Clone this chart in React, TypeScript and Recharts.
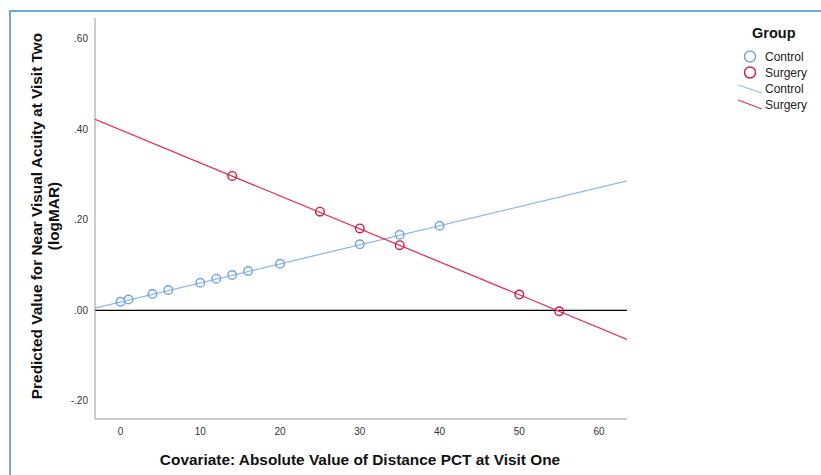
import React from 'react';
import { ScatterChart, Scatter, XAxis, YAxis, ReferenceLine } from 'recharts';

// covariate values (x) and predicted logMAR (y)
const controlX = [0, 1, 4, 6, 10, 12, 14, 16, 20, 30, 35, 40];
const controlY = [0.019, 0.024, 0.036, 0.045, 0.061, 0.07, 0.078, 0.087, 0.103, 0.146, 0.167, 0.187];
const surgeryX = [14, 25, 30, 35, 50, 55];
const surgeryY = [0.297, 0.218, 0.181, 0.144, 0.035, -0.002];

// fitted lines, read at the ends of the plot frame
const fitX = [-3.2, 63.5];
const controlFitY = [0.005, 0.286];
const surgeryFitY = [0.422, -0.064];

const xTicks = [0, 10, 20, 30, 40, 50, 60];
const yTicks = [-0.2, 0, 0.2, 0.4, 0.6];

const CONTROL = '#6fa3e6';
const CONTROL_LINE = '#8bb8ef';
const SURGERY = '#d6163f';
const SURGERY_LINE = '#e0345a';
const FONT = '"Liberation Sans", Arial, sans-serif';

const pts = (xs: number[], ys: number[]) => xs.map((x, i) => ({ x, y: ys[i] }));

const controlPts = pts(controlX, controlY);
const surgeryPts = pts(surgeryX, surgeryY);
const controlFit = pts(fitX, controlFitY);
const surgeryFit = pts(fitX, surgeryFitY);

const fmtY = (v: number) => v.toFixed(2).replace('0.', '.');

const ring = (color: string) => (props: any) => (
  <circle cx={props.cx} cy={props.cy} r={4.3} fill="none" stroke={color} strokeWidth={1.4} />
);
const noDot = () => <g />;

const App: React.FC = () => {
  return (
    <div style={{ position: 'absolute', left: 0, top: 0, width: 821, height: 475, background: '#fff', fontFamily: FONT }}>
      <div style={{ position: 'absolute', left: 9, top: 10, right: 0, bottom: 0, borderTop: '2px solid #6fa8dc', borderLeft: '2px solid #6fa8dc' }} />
      <div style={{ position: 'absolute', left: 0, top: 0 }}>
        <ScatterChart width={821} height={475} margin={{ top: 18, right: 194, bottom: 26, left: 35 }}>
          <XAxis
            type="number"
            dataKey="x"
            domain={[-3.2, 63.5]}
            ticks={xTicks}
            allowDataOverflow
            height={30}
            stroke="#9a9a9a"
            tickLine={false}
            tickSize={0}
            tickMargin={9}
            tick={{ fontSize: 10, fill: '#333', fontFamily: FONT }}
          />
          <YAxis
            type="number"
            dataKey="y"
            domain={[-0.24, 0.646]}
            ticks={yTicks}
            allowDataOverflow
            width={60}
            stroke="#9a9a9a"
            tickLine={false}
            tickSize={0}
            tickMargin={7}
            tickFormatter={fmtY}
            tick={{ fontSize: 10, fill: '#333', fontFamily: FONT }}
          />
          <ReferenceLine y={0} stroke="#000" strokeWidth={1.2} />
          <Scatter data={controlFit} line={{ stroke: CONTROL_LINE, strokeWidth: 1.3 }} shape={noDot} isAnimationActive={false} />
          <Scatter data={surgeryFit} line={{ stroke: SURGERY_LINE, strokeWidth: 1.3 }} shape={noDot} isAnimationActive={false} />
          <Scatter data={controlPts} shape={ring(CONTROL)} isAnimationActive={false} />
          <Scatter data={surgeryPts} shape={ring(SURGERY)} isAnimationActive={false} />
        </ScatterChart>
      </div>
      <svg width={821} height={475} style={{ position: 'absolute', left: 0, top: 0, pointerEvents: 'none' }}>
        <g fontFamily={FONT} fontWeight="bold" fontSize={15.4} fill="#111">
          <text transform="translate(36,216) rotate(-90)" textAnchor="middle" dominantBaseline="central">
            Predicted Value for Near Visual Acuity at Visit Two
          </text>
          <text transform="translate(53,216) rotate(-90)" textAnchor="middle" dominantBaseline="central">
            (logMAR)
          </text>
          <text x={360} y={465} textAnchor="middle">
            Covariate: Absolute Value of Distance PCT at Visit One
          </text>
        </g>
        <text x={752} y={38} fontFamily={FONT} fontWeight="bold" fontSize={14.5} fill="#111">Group</text>
        <g fontFamily={FONT} fontSize={12} fill="#222">
          <circle cx={750} cy={56.5} r={5.5} fill="none" stroke={CONTROL} strokeWidth={1.4} />
          <text x={765} y={61}>Control</text>
          <circle cx={750} cy={72.5} r={5.5} fill="none" stroke={SURGERY} strokeWidth={1.4} />
          <text x={765} y={77}>Surgery</text>
          <line x1={738} y1={85} x2={762} y2={93} stroke={CONTROL_LINE} strokeWidth={1.3} />
          <text x={765} y={93}>Control</text>
          <line x1={738} y1={100} x2={762} y2={109} stroke={SURGERY_LINE} strokeWidth={1.3} />
          <text x={765} y={109}>Surgery</text>
        </g>
      </svg>
    </div>
  );
};

export default App;
